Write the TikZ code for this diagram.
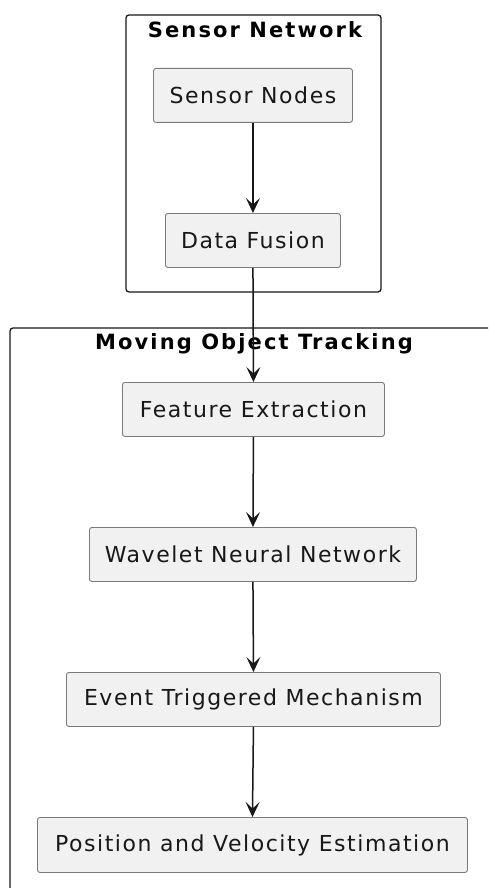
\documentclass[tikz,border=0pt]{standalone}
\usepackage{fontspec}
\setmainfont{DejaVu Sans}
\newfontfamily\stagefont[LetterSpace=7]{DejaVu Sans}
\newfontfamily\titlefont[LetterSpace=10]{DejaVu Sans Bold}
\usetikzlibrary{arrows.meta}
\definecolor{boxfill}{HTML}{F1F1F1}
\definecolor{boxline}{HTML}{7A7A7A}
\definecolor{ink}{HTML}{181818}
\tikzset{
  stage/.style={draw=boxline, line width=0.9pt, fill=boxfill, rounded corners=2.5pt,
    text=ink, font=\stagefont\fontsize{22}{26}\selectfont, inner sep=0pt, anchor=north west},
  group/.style={draw=ink, line width=1.3pt, rounded corners=3pt},
  grouptitle/.style={text=black, font=\titlefont\fontsize{21}{25}\selectfont, inner sep=0pt},
  flow/.style={draw=ink, line width=1.5pt, -{Stealth[length=15pt, width=14pt, inset=6.5pt]}}
}
\begin{document}
\begin{tikzpicture}[x=1pt, y=-1pt]
  \useasboundingbox (0,0) rectangle (488,888);
  \clip (0,0) rectangle (488,888);
  \fill[white] (0,0) rectangle (488,888);

  % Sensor network group
  \draw[group] (126,15) rectangle (381,292);
  \node[grouptitle] (snTitle) at (255,30) {Sensor Network};

  % Tracking group (runs past the right and bottom edges)
  \draw[group] (10,328) rectangle (520,920);
  \node[grouptitle] (motTitle) at (254,344) {Moving Object Tracking};

  % Stages
  \node[stage, minimum width=199pt, minimum height=54pt] (sn) at (153,68) {Sensor Nodes};
  \node[stage, minimum width=175pt, minimum height=54pt] (df) at (165,213) {Data Fusion};
  \node[stage, minimum width=262pt, minimum height=54pt] (fe) at (122,382) {Feature Extraction};
  \node[stage, minimum width=327pt, minimum height=54pt] (wnn) at (89,527) {Wavelet Neural Network};
  \node[stage, minimum width=374pt, minimum height=54pt] (etm) at (66,672) {Event Triggered Mechanism};
  \node[stage, minimum width=430pt, minimum height=55pt] (pve) at (37,817) {Position and Velocity Estimation};

  % Flow
  \draw[flow] (sn.south) -- (df.north);
  \draw[flow] (df.south) -- (fe.north);
  \draw[flow] (fe.south) -- (wnn.north);
  \draw[flow] (wnn.south) -- (etm.north);
  \draw[flow] (etm.south) -- (pve.north);
\end{tikzpicture}
\end{document}
